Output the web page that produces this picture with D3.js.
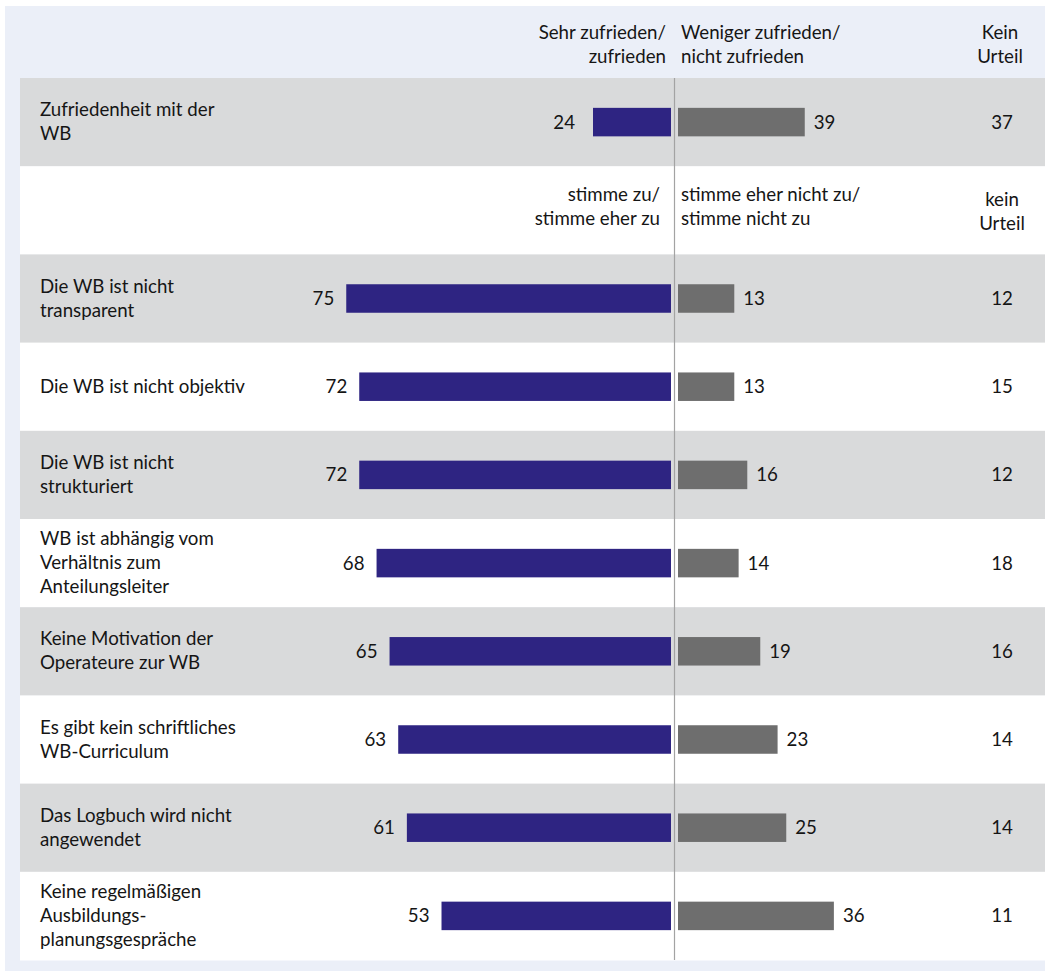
<!DOCTYPE html>
<html>
<head>
<meta charset="utf-8">
<script src="https://cdn.jsdelivr.net/npm/d3@7"></script>
<style>
  html, body { margin: 0; padding: 0; background: #ffffff; }
  svg { display: block; }
  text { font-family: Lato, "Open Sans", sans-serif; font-size: 18.7px; fill: #151515; }
</style>
</head>
<body>
<svg id="chart" width="1045" height="971"></svg>
<script>
// Satisfaction block (one question)
const satLabels   = ["Zufriedenheit mit der\nWB"];
const satPositive = [24];
const satNegative = [39];
const satNone     = [37];
const satHeaders  = ["Sehr zufrieden/\nzufrieden", "Weniger zufrieden/\nnicht zufrieden", "Kein\nUrteil"];

// Agreement block (statements)
const stmtLabels = [
  "Die WB ist nicht\ntransparent",
  "Die WB ist nicht objektiv",
  "Die WB ist nicht\nstrukturiert",
  "WB ist abhängig vom\nVerhältnis zum\nAnteilungsleiter",
  "Keine Motivation der\nOperateure zur WB",
  "Es gibt kein schriftliches\nWB-Curriculum",
  "Das Logbuch wird nicht\nangewendet",
  "Keine regelmäßigen\nAusbildungs-\nplanungsgespräche"
];
const stmtAgree    = [75, 72, 72, 68, 65, 63, 61, 53];
const stmtDisagree = [13, 13, 16, 14, 19, 23, 25, 36];
const stmtNone     = [12, 15, 12, 18, 16, 14, 14, 11];
const stmtHeaders  = ["stimme zu/\nstimme eher zu", "stimme eher nicht zu/\nstimme nicht zu", "kein\nUrteil"];

const W = 1045, H = 971;
const svg = d3.select("#chart");

const C = {
  frame: "#ebeff8",
  band: "#d9dadb",
  white: "#ffffff",
  pos: "#2e2482",
  neg: "#6e6e6e",
  axis: "#a3a3a3"
};

// Row layout: satisfaction row, sub-header row, then the statements
const rowKeys = ["sat", "subhead"].concat(stmtLabels.map((d, i) => "s" + i));
const y = d3.scaleBand().domain(rowKeys).range([78, 960]).paddingInner(0).paddingOuter(0);

const midX = 674.5;      // divider between the two sides
const barGap = 3.5;      // space between divider and bars
const noneX = 1002;      // centre of the "Kein Urteil" column
const rowLeft = 20, labelX = 40;
const barH = 28.5;
const lineH = 24;

// Separate length scales for the two blocks
const xSat  = d3.scaleLinear().domain([0, 100]).range([0, 325]);
const xStmt = d3.scaleLinear().domain([0, 100]).range([0, 433]);

// Frame
svg.append("rect").attr("x", 5).attr("y", 6).attr("width", W - 5).attr("height", H - 6).attr("fill", C.frame);

// Row backgrounds (alternating grey / white)
svg.append("g").selectAll("rect").data(rowKeys).join("rect")
  .attr("x", rowLeft).attr("y", d => y(d))
  .attr("width", W - rowLeft).attr("height", y.bandwidth() + 0.5)
  .attr("fill", (d, i) => i % 2 === 0 ? C.band : C.white);

// Multi-line text helper
function multiline(sel, str, x, baseline, anchor) {
  const lines = str.split("\n");
  const t = sel.append("text").attr("text-anchor", anchor);
  lines.forEach((ln, i) => {
    t.append("tspan").attr("x", x).attr("y", baseline + i * lineH).text(ln);
  });
  return t;
}
function centredBaseline(key, n) {
  return y(key) + y.bandwidth() / 2 + 6 - (n - 1) * lineH / 2;
}

// Column headers
const gh = svg.append("g");
multiline(gh, satHeaders[0], 666, 39, "end");
multiline(gh, satHeaders[1], 681, 39, "start");
multiline(gh, satHeaders[2], 1000, 39, "middle");
const sy = y("subhead");
multiline(gh, stmtHeaders[0], 660, sy + 35, "end");
multiline(gh, stmtHeaders[1], 681, sy + 35, "start");
multiline(gh, stmtHeaders[2], 1002, sy + 40, "middle");

// Draw one block of diverging rows
function drawBlock(keys, labels, pos, neg, none, xs, posLabelGap) {
  const g = svg.append("g");
  const rows = keys.map((k, i) => ({ k, label: labels[i], pos: pos[i], neg: neg[i], none: none[i] }));
  const cy = d => y(d.k) + y.bandwidth() / 2;

  rows.forEach(d => {
    multiline(g, d.label, labelX, centredBaseline(d.k, d.label.split("\n").length), "start");
  });

  g.selectAll("rect.pos").data(rows).join("rect").attr("class", "pos")
    .attr("x", d => midX - barGap - xs(d.pos)).attr("y", d => cy(d) - barH / 2)
    .attr("width", d => xs(d.pos)).attr("height", barH).attr("fill", C.pos);

  g.selectAll("rect.neg").data(rows).join("rect").attr("class", "neg")
    .attr("x", midX + barGap).attr("y", d => cy(d) - barH / 2)
    .attr("width", d => xs(d.neg)).attr("height", barH).attr("fill", C.neg);

  g.selectAll("text.posv").data(rows).join("text").attr("class", "posv")
    .attr("x", d => midX - barGap - xs(d.pos) - posLabelGap).attr("y", d => cy(d)).attr("dy", "0.35em")
    .attr("text-anchor", "end").text(d => d.pos);

  g.selectAll("text.negv").data(rows).join("text").attr("class", "negv")
    .attr("x", d => midX + barGap + xs(d.neg) + 9).attr("y", d => cy(d)).attr("dy", "0.35em")
    .attr("text-anchor", "start").text(d => d.neg);

  g.selectAll("text.nonev").data(rows).join("text").attr("class", "nonev")
    .attr("x", noneX).attr("y", d => cy(d)).attr("dy", "0.35em")
    .attr("text-anchor", "middle").text(d => d.none);
}

drawBlock(["sat"], satLabels, satPositive, satNegative, satNone, xSat, 18);
drawBlock(stmtLabels.map((d, i) => "s" + i), stmtLabels, stmtAgree, stmtDisagree, stmtNone, xStmt, 12);

// Divider line
svg.append("line").attr("x1", midX).attr("x2", midX).attr("y1", 78).attr("y2", 960)
  .attr("stroke", C.axis).attr("stroke-width", 1.2);
</script>
</body>
</html>
